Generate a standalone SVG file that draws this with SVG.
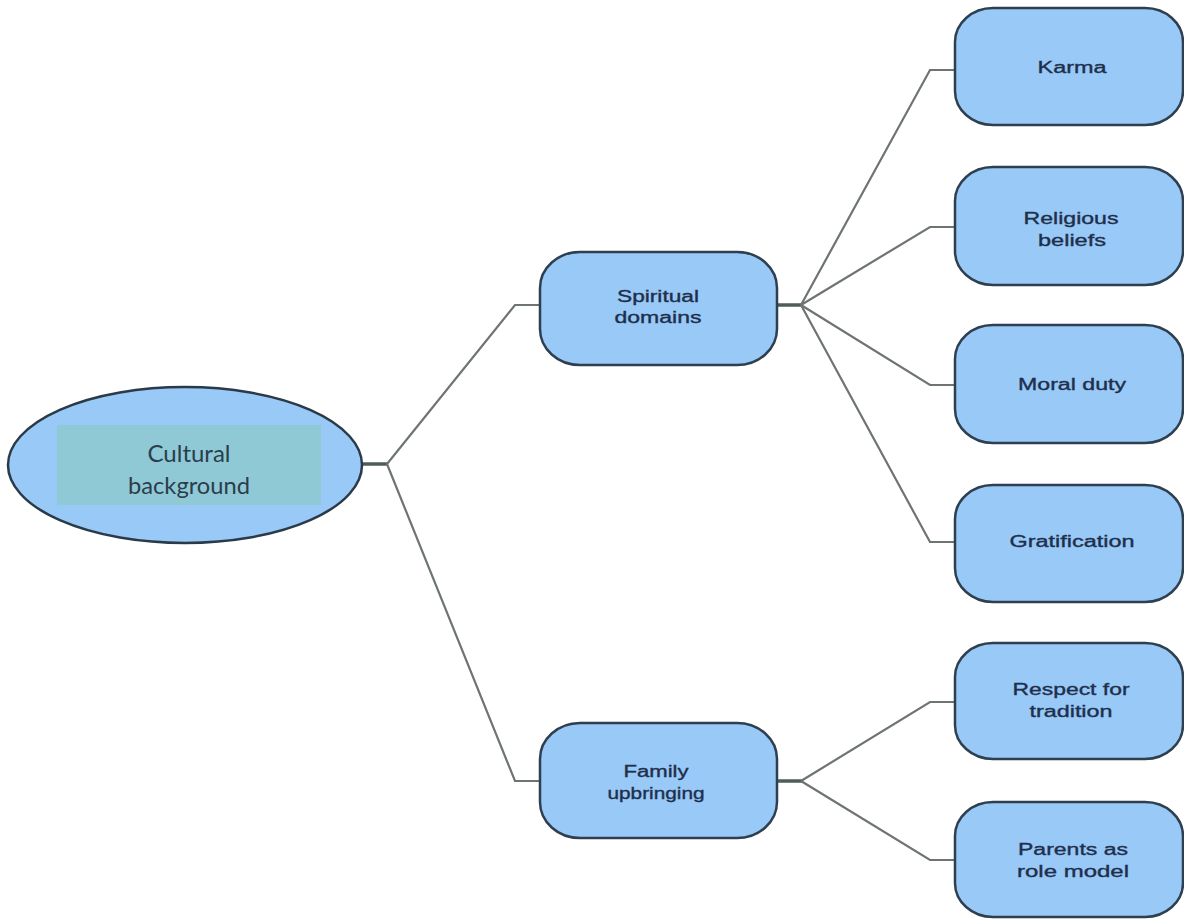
<svg xmlns="http://www.w3.org/2000/svg" width="1184" height="920" viewBox="0 0 1184 920">
  <style>
    .box { fill: #99C9F7; stroke: #2E3F4F; stroke-width: 2.5; }
    .lbl { font-family: "Liberation Sans", Arial, sans-serif; font-size: 16px; fill: #1E2F4C; stroke: #1E2F4C; stroke-width: 0.35; text-anchor: middle; }
    .root-lbl { font-family: Lato, "Open Sans", sans-serif; font-size: 24px; fill: #2B3D4C; text-anchor: middle; }
    .link { fill: none; stroke: #6E7472; stroke-width: 2.2; stroke-linejoin: miter; }
    .stub { fill: none; stroke: #4F5C58; stroke-width: 3.5; }
  </style>

  <rect width="1184" height="920" fill="#FFFFFF"/>

  <!-- connectors -->
  <g id="connectors">
    <line class="stub" x1="362" y1="464" x2="388" y2="464"/>
    <polyline class="link" points="387,464 515,305 540,305"/>
    <polyline class="link" points="387,464 515,781 540,781"/>

    <line class="stub" x1="777" y1="305" x2="802" y2="305"/>
    <polyline class="link" points="801,305 930,70 955,70"/>
    <polyline class="link" points="801,305 930,227 955,227"/>
    <polyline class="link" points="801,305 930,385 955,385"/>
    <polyline class="link" points="801,305 930,542 955,542"/>

    <line class="stub" x1="777" y1="781" x2="802" y2="781"/>
    <polyline class="link" points="801,781 930,702 955,702"/>
    <polyline class="link" points="801,781 930,860 955,860"/>
  </g>

  <!-- root -->
  <g id="cultural-background">
    <ellipse cx="185" cy="465" rx="177" ry="78" fill="#99C9F7" stroke="#2A3A48" stroke-width="2.5"/>
    <rect x="57" y="425" width="264" height="80" fill="#8FC9D5"/>
    <text class="root-lbl" x="189" y="462" textLength="83" lengthAdjust="spacingAndGlyphs">Cultural</text>
    <text class="root-lbl" x="189" y="494" textLength="122" lengthAdjust="spacingAndGlyphs">background</text>
  </g>

  <!-- second level -->
  <g id="spiritual-domains">
    <rect class="box" x="540" y="252" width="237" height="113" rx="40" ry="36"/>
    <text class="lbl" x="658" y="302" textLength="82" lengthAdjust="spacingAndGlyphs">Spiritual</text>
    <text class="lbl" x="658" y="323" textLength="87" lengthAdjust="spacingAndGlyphs">domains</text>
  </g>

  <g id="family-upbringing">
    <rect class="box" x="540" y="723" width="237" height="115" rx="40" ry="36"/>
    <text class="lbl" x="656" y="777" textLength="65" lengthAdjust="spacingAndGlyphs">Family</text>
    <text class="lbl" x="656" y="799" textLength="97" lengthAdjust="spacingAndGlyphs">upbringing</text>
  </g>

  <!-- leaves -->
  <g id="karma">
    <rect class="box" x="955" y="8" width="228" height="117" rx="38" ry="34"/>
    <text class="lbl" x="1072" y="73" textLength="69" lengthAdjust="spacingAndGlyphs">Karma</text>
  </g>

  <g id="religious-beliefs">
    <rect class="box" x="955" y="167" width="228" height="118" rx="38" ry="34"/>
    <text class="lbl" x="1071" y="224" textLength="95" lengthAdjust="spacingAndGlyphs">Religious</text>
    <text class="lbl" x="1072" y="246" textLength="68" lengthAdjust="spacingAndGlyphs">beliefs</text>
  </g>

  <g id="moral-duty">
    <rect class="box" x="955" y="325" width="228" height="118" rx="38" ry="34"/>
    <text class="lbl" x="1072" y="390" textLength="108" lengthAdjust="spacingAndGlyphs">Moral duty</text>
  </g>

  <g id="gratification">
    <rect class="box" x="955" y="485" width="228" height="117" rx="38" ry="34"/>
    <text class="lbl" x="1072" y="547" textLength="125" lengthAdjust="spacingAndGlyphs">Gratification</text>
  </g>

  <g id="respect-for-tradition">
    <rect class="box" x="955" y="643" width="228" height="116" rx="38" ry="34"/>
    <text class="lbl" x="1071" y="695" textLength="117" lengthAdjust="spacingAndGlyphs">Respect for</text>
    <text class="lbl" x="1071" y="717" textLength="83" lengthAdjust="spacingAndGlyphs">tradition</text>
  </g>

  <g id="parents-as-role-model">
    <rect class="box" x="955" y="802" width="228" height="115" rx="38" ry="34"/>
    <text class="lbl" x="1073" y="855" textLength="110" lengthAdjust="spacingAndGlyphs">Parents as</text>
    <text class="lbl" x="1073" y="877" textLength="112" lengthAdjust="spacingAndGlyphs">role model</text>
  </g>
</svg>
